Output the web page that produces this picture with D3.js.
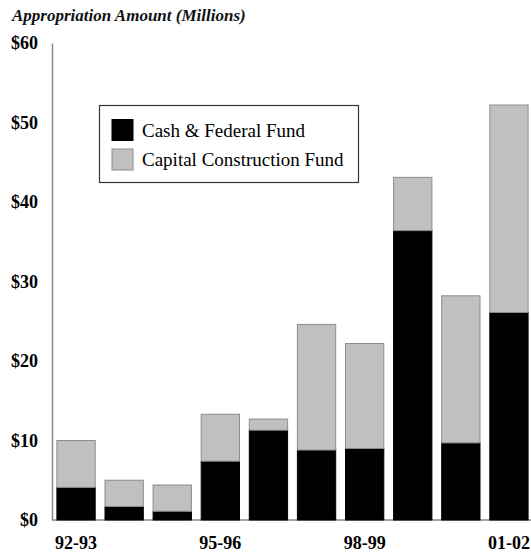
<!DOCTYPE html>
<html><head><meta charset="utf-8">
<script src="https://cdn.jsdelivr.net/npm/d3@7"></script>
<style>body{margin:0;background:#fff}svg{display:block}</style>
</head><body>
<svg id="c" width="531" height="554"></svg>
<script>
const years = ["92-93","93-94","94-95","95-96","96-97","97-98","98-99","99-00","00-01","01-02"];
const cashFederal = [4.1, 1.7, 1.1, 7.4, 11.3, 8.8, 9.0, 36.4, 9.7, 26.1];
const capitalConstruction = [5.9, 3.3, 3.3, 5.9, 1.4, 15.8, 13.2, 6.7, 18.5, 26.1];
const yTicks = [0, 10, 20, 30, 40, 50, 60];
const xLabelShown = ["92-93","95-96","98-99","01-02"];
const seriesNames = ["Cash & Federal Fund","Capital Construction Fund"];
const title = "Appropriation Amount (Millions)";

const svg = d3.select("#c");
const serif = "'Liberation Serif','Times New Roman',serif";

const rows = years.map((y,i)=>({year:y, cash:cashFederal[i], cap:capitalConstruction[i]}));
const stacked = d3.stack().keys(["cash","cap"])(rows);

const x = d3.scaleBand().domain(years).range([52, 533]).paddingInner(0.183).paddingOuter(0.0915);
const y = d3.scaleLinear().domain([0, 60]).range([520, 43]);

const fills = ["#000000", "#c0c0c0"];
const strokes = ["#000000", "#8c8c8c"];

// x axis
const xa = svg.append("g").attr("transform","translate(0,520)")
  .call(d3.axisBottom(x).tickSize(0).tickPadding(16)
    .tickFormat(d => xLabelShown.includes(d) ? d : ""));
xa.select(".domain").attr("stroke","#888").attr("stroke-width",1.5).attr("d","M52,0H531");
xa.selectAll("text").attr("font-family",serif).attr("font-size",18).attr("font-weight","bold").attr("fill","#000");

// bars
svg.append("g").selectAll("g").data(stacked).join("g")
  .attr("fill",(d,i)=>fills[i]).attr("stroke",(d,i)=>strokes[i]).attr("stroke-width",1)
  .selectAll("rect").data(d=>d).join("rect")
  .attr("x", d=>x(d.data.year)+0.5)
  .attr("width", x.bandwidth()-1)
  .attr("y", d=>y(d[1]))
  .attr("height", d=>y(d[0])-y(d[1]));

// y axis
const ya = svg.append("g").attr("transform","translate(52,0)")
  .call(d3.axisLeft(y).tickValues(yTicks).tickSize(0).tickSizeOuter(0).tickPadding(14)
    .tickFormat(d=>"$"+d));
ya.select(".domain").attr("stroke","#888").attr("stroke-width",1.5);
ya.selectAll("text").attr("font-family",serif).attr("font-size",18).attr("font-weight","bold").attr("fill","#000");

// title
svg.append("text").attr("x",12).attr("y",21).text(title)
  .attr("font-family",serif).attr("font-size",17).attr("font-style","italic").attr("font-weight","bold").attr("fill","#111");

// legend
const lg = svg.append("g");
lg.append("rect").attr("x",99.5).attr("y",105.5).attr("width",259).attr("height",77)
  .attr("fill","#fff").attr("stroke","#333").attr("stroke-width",1.2);
seriesNames.forEach((n,i)=>{
  lg.append("rect").attr("x",112).attr("y",119.5+i*29.5).attr("width",21).attr("height",21)
    .attr("fill",fills[i]).attr("stroke",strokes[i]).attr("stroke-width",1);
  lg.append("text").attr("x",142).attr("y",136.5+i*29.5).text(n)
    .attr("font-family",serif).attr("font-size",19).attr("fill","#000");
});
</script>
</body></html>
